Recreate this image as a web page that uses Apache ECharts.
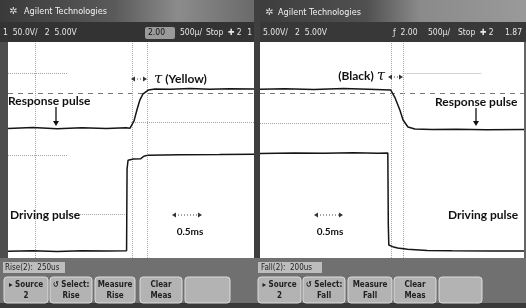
<!DOCTYPE html>
<html>
<head>
<meta charset="utf-8">
<style>
html, body { margin: 0; padding: 0; background: #fff; }
#main { width: 526px; height: 308px; }
</style>
<script src="https://cdn.jsdelivr.net/npm/echarts@6/dist/echarts.min.js"></script>
</head>
<body>
<div id="main"></div>
<script>
// time in ms (500us/div), level in screen divisions (0 = bottom of the screen)
var riseRespT = [-2.5, -2.0, -1.5, -1.0, -0.5, -0.1, -0.02, 0.06, 0.12, 0.18, 0.24, 0.35, 0.49, 0.8, 1.2, 1.6, 2.0, 2.5];
var riseRespV = [4.80, 4.83, 4.79, 4.82, 4.80, 4.82, 4.81, 5.07, 5.48, 5.85, 6.07, 6.22, 6.26, 6.25, 6.28, 6.25, 6.27, 6.26];
var riseDrvT = [-2.5, -2.0, -1.5, -1.0, -0.5, -0.09, -0.08, -0.06, 0.05, 0.2, 0.26, 0.35, 1.0, 1.8, 2.5];
var riseDrvV = [0.25, 0.27, 0.24, 0.27, 0.26, 0.27, 3.3, 3.62, 3.67, 3.68, 3.77, 3.81, 3.82, 3.83, 3.84];

var fallRespT = [-2.7, -2.2, -1.6, -1.0, -0.5, -0.04, 0.04, 0.145, 0.21, 0.31, 0.45, 0.8, 1.3, 1.9, 2.67];
var fallRespV = [6.25, 6.27, 6.24, 6.28, 6.25, 6.22, 5.96, 5.48, 5.11, 4.85, 4.78, 4.76, 4.77, 4.75, 4.76];
var fallDrvT = [-2.7, -2.0, -1.4, -0.8, -0.3, -0.10, -0.09, -0.08, 0.0, 0.1, 0.3, 0.7, 1.2, 2.0, 2.67];
var fallDrvV = [3.87, 3.89, 3.88, 3.90, 3.88, 3.89, 1.2, 0.48, 0.42, 0.37, 0.32, 0.28, 0.27, 0.26, 0.26];

// cursor / marker positions
var riseCursors = [0.02, 0.325];
var fallCursors = [-0.04, 0.205];
var markerLevel = 6.11;

function pairs(t, v) {
    var out = [];
    for (var i = 0; i < t.length; i++) out.push([t[i], v[i]]);
    return out;
}

function seg(x1, y1, x2, y2) {
    return [{ coord: [x1, y1] }, { coord: [x2, y2] }];
}

var dotted = { color: '#a5a5a5', type: 'dotted', width: 1 };

function button(x, y, w, h, l1, l2) {
    return {
        type: 'group', x: x, y: y, children: [
            { type: 'rect', shape: { x: 0, y: 0, width: w, height: h, r: 3 },
              style: { fill: '#b3b3b3', stroke: '#dcdcdc', lineWidth: 1 } },
            { type: 'text', x: w / 2, y: 8, style: { text: l1, font: 'bold 8px "DejaVu Sans Condensed", sans-serif', fill: '#222', align: 'center', verticalAlign: 'middle' } },
            { type: 'text', x: w / 2, y: 19, style: { text: l2, font: 'bold 8px "DejaVu Sans Condensed", sans-serif', fill: '#222', align: 'center', verticalAlign: 'middle' } }
        ]
    };
}

function label(x, y, txt, opt) {
    opt = opt || {};
    return {
        type: 'text', x: x, y: y, z: 20,
        style: {
            text: txt,
            font: opt.font || 'bold 12px Lato, sans-serif',
            fill: opt.fill || '#111',
            align: opt.align || 'left',
            verticalAlign: 'middle',
            rich: opt.rich
        }
    };
}

function downArrow(x, y1, y2) {
    return [
        { type: 'line', z: 20, shape: { x1: x, y1: y1, x2: x, y2: y2 - 3 }, style: { stroke: '#111', lineWidth: 1.3 } },
        { type: 'polygon', z: 20, shape: { points: [[x - 3, y2 - 5], [x + 3, y2 - 5], [x, y2]] }, style: { fill: '#111' } }
    ];
}

function hArrow(x1, x2, y) {
    return [
        { type: 'line', z: 20, shape: { x1: x1 + 3, y1: y, x2: x2 - 3, y2: y }, style: { stroke: '#444', lineWidth: 1, lineDash: [1, 2] } },
        { type: 'polygon', z: 20, shape: { points: [[x1, y], [x1 + 4, y - 2.5], [x1 + 4, y + 2.5]] }, style: { fill: '#333' } },
        { type: 'polygon', z: 20, shape: { points: [[x2, y], [x2 - 4, y - 2.5], [x2 - 4, y + 2.5]] }, style: { fill: '#333' } }
    ];
}

var small = '8.5px "DejaVu Sans Condensed", sans-serif';
var title = '9px "DejaVu Sans Condensed", sans-serif';
var tau = { t: { font: 'italic 15px "DejaVu Serif", serif', fill: '#111' } };

var graphics = [
    // frame
    { type: 'rect', shape: { x: 0, y: 0, width: 8, height: 308 }, style: { fill: '#4d4d4d' } },
    { type: 'rect', shape: { x: 254, y: 0, width: 6, height: 308 }, style: { fill: '#3f3f3f' } },
    { type: 'rect', shape: { x: 524, y: 0, width: 2, height: 308 }, style: { fill: '#666' } },
    // title bars
    { type: 'rect', shape: { x: 0, y: 0, width: 254, height: 22 },
      style: { fill: new echarts.graphic.LinearGradient(0, 0, 1, 0, [
          { offset: 0, color: '#3a3a3a' }, { offset: 0.45, color: '#5a5a5a' },
          { offset: 0.7, color: '#8c8c8c' }, { offset: 1, color: '#6a6a6a' }]) } },
    { type: 'rect', shape: { x: 260, y: 0, width: 266, height: 22 },
      style: { fill: new echarts.graphic.LinearGradient(0, 0, 1, 0, [
          { offset: 0, color: '#3d3d3d' }, { offset: 0.4, color: '#505050' },
          { offset: 0.6, color: '#8a8a8a' }, { offset: 1, color: '#9a9a9a' }]) } },
    // status bars
    { type: 'rect', shape: { x: 0, y: 22, width: 254, height: 20 }, style: { fill: '#333' } },
    { type: 'rect', shape: { x: 260, y: 22, width: 266, height: 20 }, style: { fill: '#383838' } },
    { type: 'rect', shape: { x: 145, y: 27, width: 30, height: 12, r: 2 }, style: { fill: '#9a9a9a' } },
    // bottom bar
    { type: 'rect', shape: { x: 0, y: 258, width: 526, height: 50 }, style: { fill: '#707070' } },
    { type: 'rect', shape: { x: 0, y: 303, width: 526, height: 5 }, style: { fill: '#3a3a3a' } },
    { type: 'rect', shape: { x: 3, y: 262, width: 62, height: 11 }, style: { fill: '#bdbdbd' } },
    { type: 'rect', shape: { x: 258, y: 262, width: 64, height: 11 }, style: { fill: '#bdbdbd' } },

    label(24, 12, 'Agilent Technologies', { font: title, fill: '#f2f2f2' }),
    label(9, 11, '✲', { font: '10px "DejaVu Sans", sans-serif', fill: '#ddd' }),
    label(278, 13, 'Agilent Technologies', { font: title, fill: '#f2f2f2' }),
    label(265, 12, '✲', { font: '10px "DejaVu Sans", sans-serif', fill: '#ddd' }),

    label(3, 33, '1  50.0V/   2  5.00V', { font: small, fill: '#e6e6e6' }),
    label(148, 33, '2.00', { font: small, fill: '#111' }),
    label(180, 33, '500µ/', { font: small, fill: '#e6e6e6' }),
    label(206, 33, 'Stop', { font: small, fill: '#e6e6e6' }),
    label(228, 33, '✚ 2', { font: small, fill: '#e6e6e6' }),
    label(252, 33, '1', { font: small, fill: '#e6e6e6', align: 'right' }),
    label(263, 33, '5.00V/   2  5.00V', { font: small, fill: '#e6e6e6' }),
    label(393, 33, 'ƒ  2.00', { font: small, fill: '#e6e6e6' }),
    label(428, 33, '500µ/', { font: small, fill: '#e6e6e6' }),
    label(458, 33, 'Stop', { font: small, fill: '#e6e6e6' }),
    label(480, 33, '✚ 2', { font: small, fill: '#e6e6e6' }),
    label(522, 33, '1.87', { font: small, fill: '#e6e6e6', align: 'right' }),

    label(5, 268, 'Rise(2):  250us', { font: '8px "DejaVu Sans Condensed", sans-serif', fill: '#222' }),
    label(261, 268, 'Fall(2):  200us', { font: '8px "DejaVu Sans Condensed", sans-serif', fill: '#222' }),

    button(4, 277, 44, 26, '▸ Source', '2'),
    button(50, 277, 42, 26, '↺ Select:', 'Rise'),
    button(95, 277, 40, 26, 'Measure', 'Rise'),
    button(140, 277, 42, 26, 'Clear', 'Meas'),
    button(185, 277, 45, 26, '', ''),
    button(258, 277, 43, 26, '▸ Source', '2'),
    button(303, 277, 42, 26, '↺ Select:', 'Fall'),
    button(348, 277, 44, 26, 'Measure', 'Fall'),
    button(394, 277, 42, 26, 'Clear', 'Meas'),
    button(439, 277, 43, 26, '', ''),

    // annotations
    label(8, 101, 'Response pulse'),
    label(154, 79, '{t|τ} (Yellow)', { rich: tau }),
    label(385, 76, '(Black) {t|τ}', { align: 'right', rich: tau }),
    label(435, 102, 'Response pulse'),
    label(10, 215, 'Driving pulse'),
    label(448, 215, 'Driving pulse'),
    label(190, 232, '0.5ms', { font: 'bold 10px Lato, sans-serif', align: 'center' }),
    label(330, 232, '0.5ms', { font: 'bold 10px Lato, sans-serif', align: 'center' })
];

graphics = graphics
    .concat(downArrow(56, 107, 126))
    .concat(downArrow(476, 108, 126))
    .concat(hArrow(131, 147, 79))
    .concat(hArrow(388, 403, 77))
    .concat(hArrow(172, 202, 215))
    .concat(hArrow(314, 343, 215));

var trace = { color: '#151515', width: 1.5 };

var option = {
    animation: false,
    backgroundColor: '#fff',
    graphic: graphics,
    grid: [
        { left: 8, top: 42, width: 246, height: 216 },
        { left: 260, top: 42, width: 264, height: 216 }
    ],
    xAxis: [
        { type: 'value', gridIndex: 0, min: -2.5, max: 2.5, show: false },
        { type: 'value', gridIndex: 1, min: -2.7, max: 2.67, show: false }
    ],
    yAxis: [
        { type: 'value', gridIndex: 0, min: 0, max: 8, show: false },
        { type: 'value', gridIndex: 1, min: 0, max: 8, show: false }
    ],
    series: [
        {
            type: 'line', xAxisIndex: 0, yAxisIndex: 0, showSymbol: false,
            data: pairs(riseRespT, riseRespV), lineStyle: trace, z: 5,
            markLine: {
                silent: true, symbol: 'none', label: { show: false }, lineStyle: dotted,
                data: [
                    [{ coord: [-2.5, markerLevel], lineStyle: { type: [5, 5], color: '#777' } }, { coord: [2.5, markerLevel] }],
                    seg(riseCursors[0], 0, riseCursors[0], 8),
                    seg(riseCursors[1], 0, riseCursors[1], 8),
                    seg(-1.95, 0, -1.95, 8),
                    seg(-2.5, 6.85, -1.3, 6.85),
                    seg(0.0, 5.04, 2.5, 5.04),
                    seg(-2.5, 3.81, -1.3, 3.81),
                    seg(-1.4, 1.63, -0.1, 1.63)
                ]
            }
        },
        {
            type: 'line', xAxisIndex: 0, yAxisIndex: 0, showSymbol: false,
            data: pairs(riseDrvT, riseDrvV), lineStyle: trace, z: 5
        },
        {
            type: 'line', xAxisIndex: 1, yAxisIndex: 1, showSymbol: false,
            data: pairs(fallRespT, fallRespV), lineStyle: trace, z: 5,
            markLine: {
                silent: true, symbol: 'none', label: { show: false }, lineStyle: dotted,
                data: [
                    [{ coord: [-2.7, markerLevel], lineStyle: { type: [5, 5], color: '#777' } }, { coord: [2.67, markerLevel] }],
                    seg(fallCursors[0], 0, fallCursors[0], 8),
                    seg(fallCursors[1], 0, fallCursors[1], 8),
                    seg(-2.7, 5.0, -0.05, 5.0),
                    seg(0.2, 6.85, 1.8, 6.85)
                ]
            }
        },
        {
            type: 'line', xAxisIndex: 1, yAxisIndex: 1, showSymbol: false,
            data: pairs(fallDrvT, fallDrvV), lineStyle: trace, z: 5
        }
    ]
};

var chart = echarts.init(document.getElementById('main'));
chart.setOption(option);
</script>
</body>
</html>
